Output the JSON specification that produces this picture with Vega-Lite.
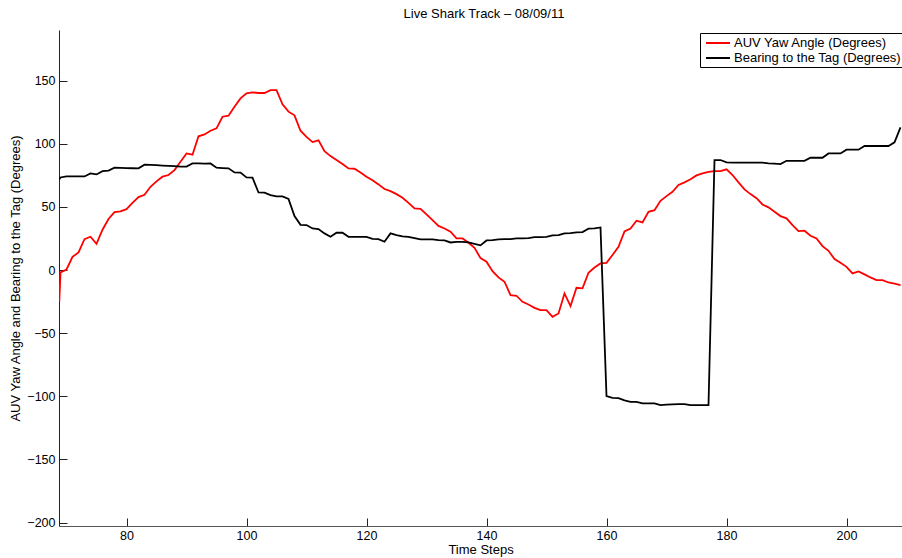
{
  "$schema": "https://vega.github.io/schema/vega-lite/v6.json",
  "autosize": "none",
  "width": 843,
  "height": 496,
  "padding": {"left": 59, "top": 30, "right": 0, "bottom": 32},
  "background": "white",
  "config": {
    "view": {"stroke": null},
    "font": "Liberation Sans",
    "axis": {"grid": false, "labelFont": "Liberation Sans", "titleFont": "Liberation Sans", "labelFontSize": 12.5, "titleFontSize": 13, "titleFontWeight": "normal", "labelColor": "#000", "titleColor": "#000", "domainColor": "#222", "tickColor": "#222", "domainWidth": 1, "tickWidth": 1}
  },
  "title": {"text": "Live Shark Track – 08/09/11", "font": "Liberation Sans", "fontSize": 13, "fontWeight": "normal", "color": "#000", "offset": 9.5, "dx": 3.5},
  "data": {"values": [
    {"t": 68.8, "yaw": -25, "bearing": 71.9},
    {"t": 69, "yaw": -1.8, "bearing": 73.4},
    {"t": 70, "yaw": 0.5, "bearing": 74.2},
    {"t": 71, "yaw": 10.5, "bearing": 74.2},
    {"t": 72, "yaw": 14, "bearing": 74.2},
    {"t": 73, "yaw": 24.5, "bearing": 74.2},
    {"t": 74, "yaw": 26.4, "bearing": 76.6},
    {"t": 75, "yaw": 20.8, "bearing": 75.8},
    {"t": 76, "yaw": 32, "bearing": 78.4},
    {"t": 77, "yaw": 40.5, "bearing": 78.8},
    {"t": 78, "yaw": 46, "bearing": 81.1},
    {"t": 79, "yaw": 46.5, "bearing": 81},
    {"t": 80, "yaw": 48.3, "bearing": 80.8},
    {"t": 81, "yaw": 53.3, "bearing": 80.7},
    {"t": 82, "yaw": 57.8, "bearing": 80.6},
    {"t": 83, "yaw": 59.7, "bearing": 83.5},
    {"t": 84, "yaw": 66, "bearing": 83.3},
    {"t": 85, "yaw": 70.3, "bearing": 83.1},
    {"t": 86, "yaw": 74, "bearing": 82.8},
    {"t": 87, "yaw": 75.3, "bearing": 82.5},
    {"t": 88, "yaw": 79.2, "bearing": 82.3},
    {"t": 89, "yaw": 85.8, "bearing": 82},
    {"t": 90, "yaw": 92.4, "bearing": 82},
    {"t": 91, "yaw": 91.4, "bearing": 84.5},
    {"t": 92, "yaw": 106, "bearing": 84.5},
    {"t": 93, "yaw": 107.5, "bearing": 84.4},
    {"t": 94, "yaw": 110.4, "bearing": 84.5},
    {"t": 95, "yaw": 112.3, "bearing": 81.1},
    {"t": 96, "yaw": 121.5, "bearing": 80.8},
    {"t": 97, "yaw": 122.3, "bearing": 80.6},
    {"t": 98, "yaw": 129.4, "bearing": 77.4},
    {"t": 99, "yaw": 136, "bearing": 77.2},
    {"t": 100, "yaw": 140, "bearing": 73.4},
    {"t": 101, "yaw": 140.8, "bearing": 73.2},
    {"t": 102, "yaw": 140.3, "bearing": 61.5},
    {"t": 103, "yaw": 140.3, "bearing": 61.3},
    {"t": 104, "yaw": 142.6, "bearing": 59.4},
    {"t": 105, "yaw": 142.6, "bearing": 58.4},
    {"t": 106, "yaw": 131.3, "bearing": 58.4},
    {"t": 107, "yaw": 125.5, "bearing": 56.3},
    {"t": 108, "yaw": 122.6, "bearing": 42.8},
    {"t": 109, "yaw": 110.4, "bearing": 35.9},
    {"t": 110, "yaw": 105.6, "bearing": 35.7},
    {"t": 111, "yaw": 101.4, "bearing": 33},
    {"t": 112, "yaw": 102.8, "bearing": 32.5},
    {"t": 113, "yaw": 94.3, "bearing": 29.1},
    {"t": 114, "yaw": 90.3, "bearing": 26.4},
    {"t": 115, "yaw": 87.2, "bearing": 29.6},
    {"t": 116, "yaw": 84, "bearing": 29.6},
    {"t": 117, "yaw": 80.6, "bearing": 26.4},
    {"t": 118, "yaw": 80.3, "bearing": 26.4},
    {"t": 119, "yaw": 77.4, "bearing": 26.4},
    {"t": 120, "yaw": 74, "bearing": 26.4},
    {"t": 121, "yaw": 71.2, "bearing": 24.8},
    {"t": 122, "yaw": 67.9, "bearing": 24.6},
    {"t": 123, "yaw": 64.2, "bearing": 22.5},
    {"t": 124, "yaw": 62.6, "bearing": 29.1},
    {"t": 125, "yaw": 60.2, "bearing": 27.8},
    {"t": 126, "yaw": 57.3, "bearing": 26.7},
    {"t": 127, "yaw": 53.3, "bearing": 26.4},
    {"t": 128, "yaw": 48.9, "bearing": 25.3},
    {"t": 129, "yaw": 48.6, "bearing": 24.3},
    {"t": 130, "yaw": 44.1, "bearing": 24.3},
    {"t": 131, "yaw": 39.6, "bearing": 24.3},
    {"t": 132, "yaw": 35, "bearing": 23.8},
    {"t": 133, "yaw": 33, "bearing": 23.5},
    {"t": 134, "yaw": 30.4, "bearing": 21.9},
    {"t": 135, "yaw": 25.1, "bearing": 22.4},
    {"t": 136, "yaw": 25.1, "bearing": 22.4},
    {"t": 137, "yaw": 21.7, "bearing": 21.9},
    {"t": 138, "yaw": 17.6, "bearing": 20.8},
    {"t": 139, "yaw": 9.5, "bearing": 19.6},
    {"t": 140, "yaw": 6.6, "bearing": 23.5},
    {"t": 141, "yaw": -0.8, "bearing": 23.8},
    {"t": 142, "yaw": -5.8, "bearing": 24.3},
    {"t": 143, "yaw": -9.2, "bearing": 24.5},
    {"t": 144, "yaw": -19.8, "bearing": 24.6},
    {"t": 145, "yaw": -20.3, "bearing": 25.1},
    {"t": 146, "yaw": -25.1, "bearing": 25.2},
    {"t": 147, "yaw": -27.2, "bearing": 25.4},
    {"t": 148, "yaw": -29.9, "bearing": 26.1},
    {"t": 149, "yaw": -31.7, "bearing": 26.2},
    {"t": 150, "yaw": -31.7, "bearing": 26.4},
    {"t": 151, "yaw": -37, "bearing": 27.5},
    {"t": 152, "yaw": -34.3, "bearing": 27.7},
    {"t": 153, "yaw": -18.5, "bearing": 29.1},
    {"t": 154, "yaw": -28.5, "bearing": 29.3},
    {"t": 155, "yaw": -14, "bearing": 29.9},
    {"t": 156, "yaw": -14.4, "bearing": 30.1},
    {"t": 157, "yaw": -2.1, "bearing": 32.8},
    {"t": 158, "yaw": 2.1, "bearing": 33},
    {"t": 159, "yaw": 5.3, "bearing": 33.8},
    {"t": 160, "yaw": 5.7, "bearing": -99.8},
    {"t": 161, "yaw": 11.9, "bearing": -101.2},
    {"t": 162, "yaw": 18.5, "bearing": -101.4},
    {"t": 163, "yaw": 30.7, "bearing": -103.2},
    {"t": 164, "yaw": 33, "bearing": -104.3},
    {"t": 165, "yaw": 39.1, "bearing": -104.3},
    {"t": 166, "yaw": 37.8, "bearing": -105.6},
    {"t": 167, "yaw": 46.2, "bearing": -105.6},
    {"t": 168, "yaw": 47.5, "bearing": -105.6},
    {"t": 169, "yaw": 54.9, "bearing": -107},
    {"t": 170, "yaw": 58.6, "bearing": -106.5},
    {"t": 171, "yaw": 62, "bearing": -106.3},
    {"t": 172, "yaw": 67.4, "bearing": -106.2},
    {"t": 173, "yaw": 69.5, "bearing": -106.2},
    {"t": 174, "yaw": 71.9, "bearing": -107},
    {"t": 175, "yaw": 75, "bearing": -107},
    {"t": 176, "yaw": 76.6, "bearing": -107},
    {"t": 177, "yaw": 77.9, "bearing": -107},
    {"t": 178, "yaw": 78.4, "bearing": 87.2},
    {"t": 179, "yaw": 78.4, "bearing": 87.2},
    {"t": 180, "yaw": 79.8, "bearing": 85.3},
    {"t": 181, "yaw": 75.3, "bearing": 85.2},
    {"t": 182, "yaw": 69.5, "bearing": 85.2},
    {"t": 183, "yaw": 63.9, "bearing": 85.2},
    {"t": 184, "yaw": 60.2, "bearing": 85.1},
    {"t": 185, "yaw": 57, "bearing": 85.1},
    {"t": 186, "yaw": 52, "bearing": 85.1},
    {"t": 187, "yaw": 49.7, "bearing": 84.5},
    {"t": 188, "yaw": 46.2, "bearing": 84.3},
    {"t": 189, "yaw": 42.8, "bearing": 84},
    {"t": 190, "yaw": 41, "bearing": 86.6},
    {"t": 191, "yaw": 35.7, "bearing": 86.6},
    {"t": 192, "yaw": 30.9, "bearing": 86.6},
    {"t": 193, "yaw": 31.2, "bearing": 86.6},
    {"t": 194, "yaw": 27.2, "bearing": 89},
    {"t": 195, "yaw": 25.1, "bearing": 89},
    {"t": 196, "yaw": 19, "bearing": 89},
    {"t": 197, "yaw": 15.3, "bearing": 92.4},
    {"t": 198, "yaw": 8.7, "bearing": 92.4},
    {"t": 199, "yaw": 5.8, "bearing": 92.4},
    {"t": 200, "yaw": 2.6, "bearing": 95.4},
    {"t": 201, "yaw": -2.6, "bearing": 95.4},
    {"t": 202, "yaw": -1, "bearing": 95.4},
    {"t": 203, "yaw": -3.4, "bearing": 98.3},
    {"t": 204, "yaw": -5.8, "bearing": 98.3},
    {"t": 205, "yaw": -7.9, "bearing": 98.3},
    {"t": 206, "yaw": -7.9, "bearing": 98.3},
    {"t": 207, "yaw": -9.8, "bearing": 98.3},
    {"t": 208, "yaw": -10.8, "bearing": 101.2},
    {"t": 209, "yaw": -11.9, "bearing": 113.1}
  ]},
  "transform": [{"fold": ["yaw", "bearing"], "as": ["series", "value"]}],
  "mark": {"type": "line", "strokeWidth": 1.8, "clip": true},
  "encoding": {
    "x": {"field": "t", "type": "quantitative", "scale": {"domain": [68.75, 209.25], "nice": false, "zero": false},
      "axis": {"title": "Time Steps", "values": [80, 100, 120, 140, 160, 180, 200], "tickSize": -8, "labelPadding": 11.5, "titlePadding": 1, "domainColor": "#555"}},
    "y": {"field": "value", "type": "quantitative", "scale": {"domain": [-202.7, 190.2], "nice": false, "zero": false},
      "axis": {"title": "AUV Yaw Angle and Bearing to the Tag (Degrees)", "values": [-200, -150, -100, -50, 0, 50, 100, 150], "tickSize": -8, "labelPadding": 12, "titlePadding": 4}},
    "color": {"field": "series", "type": "nominal",
      "scale": {"domain": ["yaw", "bearing"], "range": ["#ff0000", "#000000"]},
      "legend": {"title": null, "orient": "none", "legendX": 641, "legendY": 3, "symbolType": "M-0.571,0H2.857", "symbolSize": 196, "symbolStrokeWidth": 2, "labelFont": "Liberation Sans", "labelFontSize": 13, "labelColor": "#000", "labelOffset": 16, "labelLimit": 400, "padding": 2, "rowPadding": 0, "strokeColor": "#000", "fillColor": "#fff", "cornerRadius": 0,
        "labelExpr": "datum.label == 'yaw' ? 'AUV Yaw Angle (Degrees)' : 'Bearing to the Tag (Degrees)'"}}
  }
}
